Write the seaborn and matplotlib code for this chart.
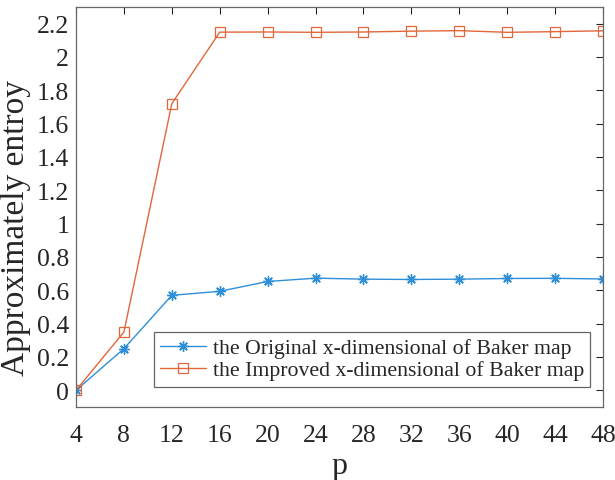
import numpy as np
import pandas as pd
import matplotlib
matplotlib.use("Agg")
import matplotlib.pyplot as plt
import seaborn as sns

p = [4, 8, 12, 16, 20, 24, 28, 32, 36, 40, 44, 48]
original = [0.0, 0.25, 0.570, 0.594, 0.653, 0.673, 0.667, 0.665, 0.667, 0.671, 0.672, 0.668]
improved = [0.0, 0.35, 1.72, 2.149, 2.150, 2.148, 2.150, 2.155, 2.158, 2.148, 2.152, 2.157]
labels = ["the Original x-dimensional of Baker map", "the Improved x-dimensional of Baker map"]
xticks = p
yticks = [0, 0.2, 0.4, 0.6, 0.8, 1.0, 1.2, 1.4, 1.6, 1.8, 2.0, 2.2]

df = pd.DataFrame({
    "p": p + p,
    "value": original + improved,
    "series": [labels[0]] * len(p) + [labels[1]] * len(p),
})

BLUE = "#2E8FD8"
ORANGE = "#E2663A"

sns.set_theme(style="white")
plt.rcParams["font.family"] = ["Liberation Serif", "DejaVu Serif"]

fig = plt.figure(figsize=(6.15, 4.81), dpi=100)
ax = fig.add_axes([0.1236, 0.1518, 0.8569, 0.8316])

ast = (8, 2, 0)
palette = {labels[0]: BLUE, labels[1]: ORANGE}
sns.lineplot(data=df, x="p", y="value", hue="series", style="series",
             palette=palette, markers={labels[0]: "*", labels[1]: "s"},
             dashes=False, ax=ax, linewidth=1.0, markersize=7)

def style_line(line):
    if line.get_marker() == "s":
        line.set_markerfacecolor("none")
        line.set_markeredgecolor(ORANGE)
        line.set_markeredgewidth(0.9)
        line.set_markersize(6.5)
    elif line.get_marker() not in ("None", None, "", " "):
        line.set_marker(ast)
        line.set_markersize(7.5)
        line.set_markeredgecolor(BLUE)
        line.set_markeredgewidth(1.0)

for line in ax.lines:
    style_line(line)

ax.set_xlim(4, 48)
ax.set_ylim(-0.1, 2.3)
ax.set_xticks(xticks)
ax.set_xticklabels([str(v) for v in xticks])
ax.set_yticks(yticks)
ax.set_yticklabels([f"{v:g}" for v in yticks])
ax.tick_params(direction="in", length=5, width=0.8, colors="#262626",
               labelsize=18.5, top=True, right=True, labelcolor="#262626")
ax.tick_params(axis="x", pad=12)
ax.tick_params(axis="y", pad=5)
for s in ax.spines.values():
    s.set_color("#666666")
    s.set_linewidth(0.9)
ax.set_xlabel("p", fontsize=23, color="#262626", labelpad=4)
ax.set_ylabel("Approximately entroy", fontsize=24, color="#262626")
ax.yaxis.set_label_coords(-0.086, 0.45)

handles, lbls = ax.get_legend_handles_labels()
for h in handles:
    style_line(h)
leg = ax.legend(handles, lbls, loc="lower right", bbox_to_anchor=(0.976, 0.05),
                fontsize=15.7, frameon=True, fancybox=False, framealpha=1,
                edgecolor="#666666", borderpad=0.3, labelspacing=0.08,
                handlelength=2.1, handletextpad=0.3, borderaxespad=0)
leg.get_frame().set_linewidth(0.9)

fig.savefig("out.png", dpi=100)
